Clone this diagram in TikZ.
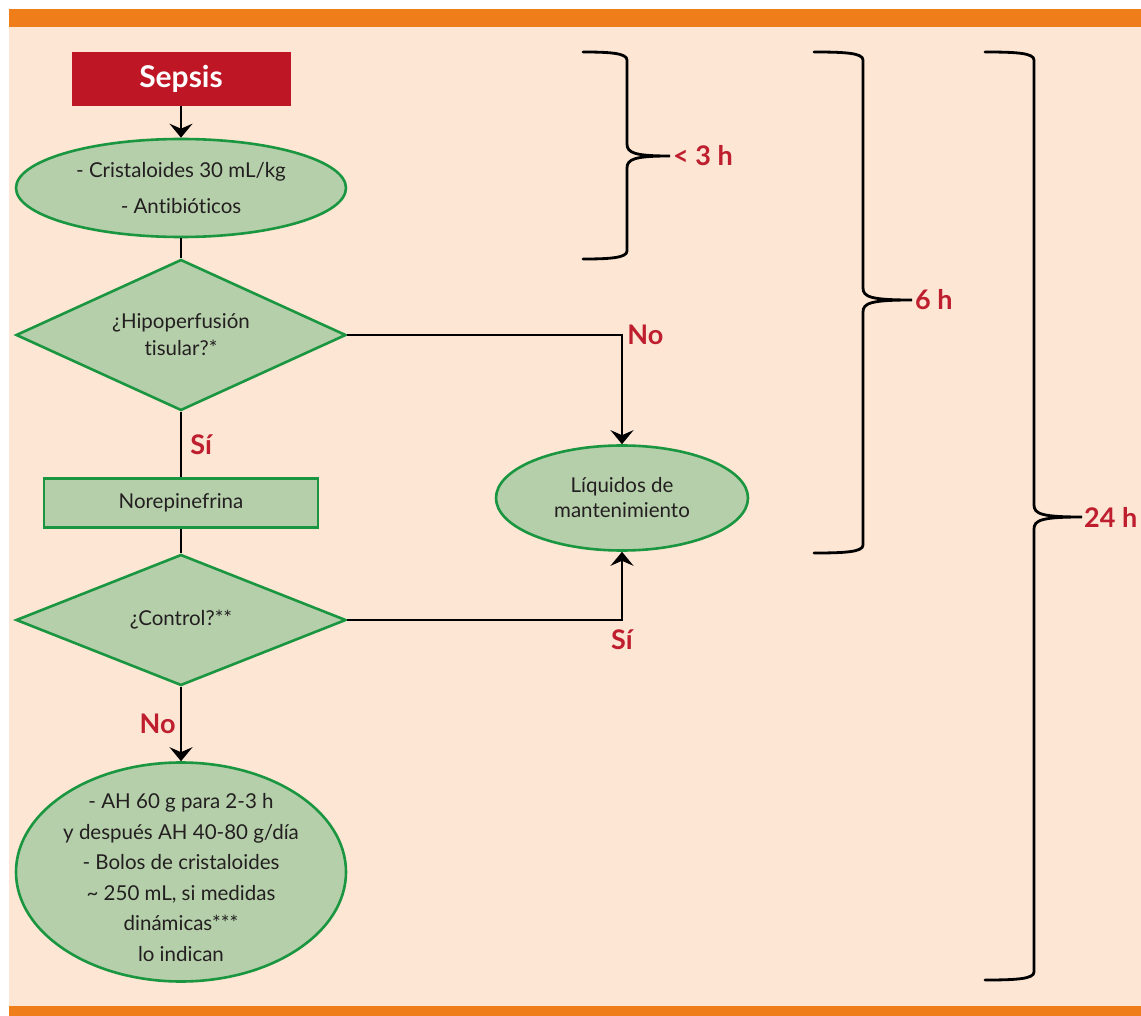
\documentclass[tikz,border=0pt]{standalone}
\usepackage{fontspec}
\setmainfont[Ligatures={NoCommon}]{Lato}
\usetikzlibrary{shapes.geometric,arrows.meta}
\definecolor{orangebar}{RGB}{239,125,26}
\definecolor{peach}{RGB}{253,230,212}
\definecolor{sepsisred}{RGB}{190,22,36}
\definecolor{greenfill}{RGB}{181,207,170}
\definecolor{greenline}{RGB}{26,150,64}
\definecolor{txt}{RGB}{35,31,32}
\definecolor{labred}{RGB}{190,30,45}
\newcommand\drawmybrace[6]{%
  \draw[bracestyle] (#1,#4) .. controls (#2-18,#4) and (#2,#4+1) .. (#2,#4+8)
    -- (#2,#5-12) .. controls (#2,#5-3) and (#2+8,#5) .. (#3,#5)
    .. controls (#2+8,#5) and (#2,#5+3) .. (#2,#5+12)
    -- (#2,#6-8) .. controls (#2,#6-1) and (#2-18,#6) .. (#1,#6);}
\begin{document}
\begin{tikzpicture}[x=1pt,y=-1pt,
  every node/.style={font=\fontsize{20.5}{25}\selectfont, text=txt},
  gshape/.style={draw=greenline, line width=2.6pt, fill=greenfill, inner sep=0pt, align=center},
  ellbox/.style={gshape, ellipse},
  diabox/.style={gshape, diamond, aspect=2.2},
  rectbox/.style={gshape, rectangle},
  conn/.style={line width=2.8pt, draw=black},
  arr/.style={conn, -{Stealth[length=14pt,width=23pt,inset=5pt]}},
  lab/.style={font=\fontsize{27}{30}\selectfont\bfseries, text=labred, inner sep=0pt},
  bracestyle/.style={line width=2.8pt, line cap=round}
]
\useasboundingbox (0,0) rectangle (1141,1016);
\fill[white] (0,0) rectangle (1141,1016);
\fill[peach] (9,27) rectangle (1141,1006);
\fill[orangebar] (9,9) rectangle (1141,27);
\fill[orangebar] (9,1006) rectangle (1141,1016);

\node[fill=sepsisred, minimum width=219pt, minimum height=54pt, inner sep=0pt,
      text=white, font=\fontsize{30}{32}\selectfont\bfseries] (sepsis) at (181,79) {Sepsis};
\node[ellbox, minimum width=330pt, minimum height=98pt] (cris) at (181,188)
  {- Cristaloides 30 mL/kg\\[11pt]- Antibióticos};
\node[diabox, minimum width=330pt, minimum height=151pt] (hipo) at (181,335)
  {¿Hipoperfusión\\[2pt]tisular?*};
\node[rectbox, minimum width=274pt, minimum height=49pt] (nore) at (181,503) {Norepinefrina};
\node[diabox, minimum width=330pt, minimum height=131pt] (ctrl) at (181,620) {¿Control?**};
\node[ellbox, minimum width=252pt, minimum height=105pt] (liq) at (622,498)
  {Líquidos de\\mantenimiento};
\node[ellbox, minimum width=330pt, minimum height=219pt, inner xsep=-16pt, inner ysep=-30pt,
      font=\fontsize{20.5}{30.5}\selectfont] (ah) at (181,872)
  {\rule{0pt}{26pt}- AH 60 g para 2-3 h\\y después AH 40-80 g/día\\- Bolos de cristaloides\\\textasciitilde{} 250 mL, si medidas\\dinámicas***\\lo indican};

\draw[arr] (sepsis) -- (cris);
\draw[conn] (cris) -- (hipo);
\draw[conn] (hipo) -- (nore) node[lab, pos=0.5, right=8pt] (si1) {Sí};
\draw[conn] (nore) -- (ctrl);
\draw[arr] (ctrl) -- (ah) node[lab, pos=0.5, left=4pt] (no2) {No};
\draw[arr] (hipo.east) -| (liq.north) node[lab, pos=0.5, right=4pt] (no1) {No};
\draw[arr] (ctrl.east) -| (liq.south) node[lab, pos=0.5, below=8pt] (si2) {Sí};

\drawmybrace{583}{627}{670}{52}{156}{259}
\drawmybrace{814}{863}{912}{52}{300}{553}
\drawmybrace{985}{1034}{1082}{52}{517}{980}
\node[lab, anchor=west] (l3) at (673,156) {< 3 h};
\node[lab, anchor=west] (l6) at (915,300) {6 h};
\node[lab, anchor=west] (l24) at (1084,517) {24 h};
\end{tikzpicture}
\end{document}
